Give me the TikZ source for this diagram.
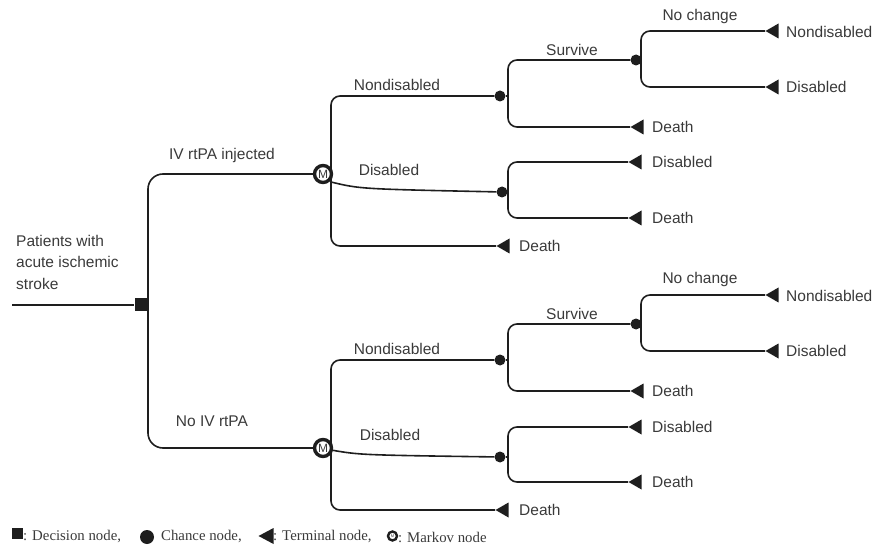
\documentclass[tikz,border=0pt]{standalone}
\usepackage{fontspec}
\setmainfont{Liberation Sans}
\newfontfamily\legfont{Liberation Serif}
\usetikzlibrary{shapes.geometric}
\definecolor{txt}{HTML}{3A3A3A}
\definecolor{lin}{HTML}{1E1E1E}
\tikzset{
  ln/.style={draw=lin, line width=1.6pt, rounded corners=9pt},
  lnbig/.style={draw=lin, line width=1.6pt, rounded corners=15pt},
  dec/.style={rectangle, fill=lin, draw=none, minimum size=13pt, inner sep=0pt},
  chance/.style={circle, fill=lin, draw=none, minimum size=11pt, inner sep=0pt},
  term/.style={isosceles triangle, shape border rotate=180, isosceles triangle stretches, fill=lin, draw=none, minimum height=13pt, minimum width=15pt, inner sep=0pt, anchor=apex},
  markov/.style={circle, draw=lin, fill=white, line width=3.4pt, minimum size=17pt, inner sep=0pt, font=\fontsize{12}{12}\selectfont, text=txt},
  lbl/.style={text=txt, font=\fontsize{15.5}{18}\selectfont, inner sep=0pt},
  tlbl/.style={lbl, anchor=west},
  leg/.style={text=txt, font=\legfont\fontsize{14.8}{16}\selectfont, inner sep=0pt, anchor=west}
}
\begin{document}
\begin{tikzpicture}[x=1pt,y=-1pt]
\useasboundingbox (0,0) rectangle (878,553);
% root
\coordinate (start) at (12,305);
\node[dec] (D) at (141,305) {};
\node[lbl, align=left, anchor=north west, font=\fontsize{15.5}{21.5}\selectfont] (rootlbl) at (16,235) {Patients with\\acute ischemic\\stroke};
\coordinate (vD) at (148,305);
\node[markov] (M1) at (323,174) {M};
\node[markov] (M2) at (323,448) {M};
\draw[ln] (start) -- (D);
\draw[lnbig] (vD) |- (M1);
\draw[lnbig] (vD) |- (M2);
\node[lbl] (l1) at (222,155) {IV rtPA injected};
\node[lbl] (l2) at (212,421) {No IV rtPA};

% ===== upper tree =====
\coordinate (vM1) at (331,174);
\coordinate (dM1) at (331,182);
\node[chance] (C1) at (500,96) {};
\node[chance] (C2) at (502,192) {};
\node[term] (T1) at (496,246) {};
\draw[ln] (vM1) |- (C1);
\draw[ln] (vM1) |- (T1.apex);
\draw[draw=lin, line width=1.6pt] (dM1) .. controls (360,189) .. (C2);
\node[lbl] (a1) at (397,85) {Nondisabled};
\node[lbl] (a2) at (389,170) {Disabled};
\node[tlbl] (a3) at (519,246) {Death};

\coordinate (vC1) at (508,96);
\node[chance] (C3) at (636,60) {};
\node[term] (T2) at (630,127) {};
\draw[ln] (C1) -- (vC1);
\draw[ln] (vC1) |- (C3);
\draw[ln] (vC1) |- (T2.apex);
\node[lbl] (b1) at (572,50) {Survive};
\node[tlbl] (b2) at (652,127) {Death};

\coordinate (vC3) at (641,60);
\node[term] (T3) at (765,31) {};
\node[term] (T4) at (765,87) {};
\draw[ln] (C3) -- (vC3);
\draw[ln] (vC3) |- (T3.apex);
\draw[ln] (vC3) |- (T4.apex);
\node[lbl] (c1) at (700,16) {No change};
\node[tlbl] (c2) at (786,32) {Nondisabled};
\node[tlbl] (c3) at (786,87) {Disabled};

\coordinate (vC2) at (508,192);
\node[term] (T5) at (628,162) {};
\node[term] (T6) at (628,218) {};
\draw[ln] (C2) -- (vC2);
\draw[ln] (vC2) |- (T5.apex);
\draw[ln] (vC2) |- (T6.apex);
\node[tlbl] (d1) at (652,162) {Disabled};
\node[tlbl] (d2) at (652,218) {Death};

% ===== lower tree =====
\coordinate (vM2) at (331,448);
\coordinate (dM2) at (331,450);
\node[chance] (C4) at (500,360) {};
\node[chance] (C6) at (500,457) {};
\node[term] (T7) at (495,510) {};
\draw[ln] (vM2) |- (C4);
\draw[ln] (vM2) |- (T7.apex);
\draw[draw=lin, line width=1.6pt] (dM2) .. controls (360,455) .. (C6);
\node[lbl] (e1) at (397,349) {Nondisabled};
\node[lbl] (e2) at (390,435) {Disabled};
\node[tlbl] (e3) at (519,510) {Death};

\coordinate (vC4) at (508,360);
\node[chance] (C5) at (636,324) {};
\node[term] (T8) at (630,391) {};
\draw[ln] (C4) -- (vC4);
\draw[ln] (vC4) |- (C5);
\draw[ln] (vC4) |- (T8.apex);
\node[lbl] (f1) at (572,314) {Survive};
\node[tlbl] (f2) at (652,391) {Death};

\coordinate (vC5) at (641,324);
\node[term] (T9) at (765,295) {};
\node[term] (T10) at (765,351) {};
\draw[ln] (C5) -- (vC5);
\draw[ln] (vC5) |- (T9.apex);
\draw[ln] (vC5) |- (T10.apex);
\node[lbl] (g1) at (700,279) {No change};
\node[tlbl] (g2) at (786,296) {Nondisabled};
\node[tlbl] (g3) at (786,351) {Disabled};

\coordinate (vC6) at (508,457);
\node[term] (T11) at (628,427) {};
\node[term] (T12) at (628,482) {};
\draw[ln] (C6) -- (vC6);
\draw[ln] (vC6) |- (T11.apex);
\draw[ln] (vC6) |- (T12.apex);
\node[tlbl] (h1) at (652,427) {Disabled};
\node[tlbl] (h2) at (652,482) {Death};

% ===== legend =====
\node[dec, minimum size=11pt] (LD) at (17.5,533) {};
\node[leg] (LDt) at (23,537) {: Decision node,};
\node[chance, minimum size=14pt] (LC) at (147,537) {};
\node[leg] (LCt) at (161,537) {Chance node,};
\node[term, minimum height=15pt, minimum width=16pt] (LT) at (258,536) {};
\node[leg] (LTt) at (273,537) {: Terminal node,};
\node[markov, minimum size=9pt, line width=2.4pt, font=\fontsize{4}{4}\selectfont] (LM) at (392.5,536) {M};
\node[leg] (LMt) at (398,537) {: Markov node};
\end{tikzpicture}
\end{document}
